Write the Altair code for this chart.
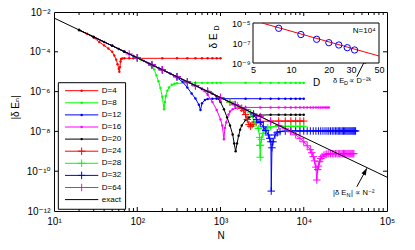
import altair as alt
import pandas as pd

# ---------------- data ----------------
N_exact = [10, 100000]
E_exact = [5.0e-3, 5.0e-11]

N4 = [20, 25, 30, 35, 40, 45, 50, 53, 56, 58, 60, 61, 62, 63, 64, 66, 70, 80, 90, 100,
      200, 300, 400, 500, 600, 700, 800, 900, 1000]
E4 = [1.25e-3, 8.0e-4, 5.2e-4, 3.1e-4, 2.1e-4, 1.45e-4, 1.0e-4, 6.5e-5, 4.0e-5, 2.4e-5,
      1.4e-5, 1.0e-5, 1.7e-5, 3.3e-5, 4.3e-5, 4.6e-5, 4.7e-5, 4.7e-5, 4.7e-5, 4.7e-5,
      4.7e-5, 4.7e-5, 4.7e-5, 4.7e-5, 4.7e-5, 4.7e-5, 4.7e-5, 4.7e-5, 4.7e-5]

N8 = [20, 30, 40, 50, 60, 70, 80, 90, 100, 110, 120, 130, 140, 150, 160, 170, 180, 190, 200,
      210, 215, 220, 230, 240, 260, 280, 300, 400, 500, 600, 700, 800, 900, 1000,
      2000, 3000, 4000, 5000, 6000, 7000, 8000, 9000, 10000]
E8 = [1.25e-3, 5.6e-4, 3.1e-4, 2.0e-4, 1.39e-4, 1.02e-4, 7.8e-5, 6.2e-5, 5.0e-5, 4.1e-5, 3.4e-5,
      2.9e-5, 2.4e-5, 1.9e-5, 1.3e-5, 6.5e-6, 3.3e-6, 1.5e-6, 5.5e-7,
      1.3e-7, 3.0e-7, 6.0e-7, 1.1e-6, 1.6e-6, 2.2e-6, 2.5e-6, 2.6e-6, 2.7e-6,
      2.75e-6, 2.75e-6, 2.75e-6, 2.75e-6, 2.75e-6, 2.75e-6,
      2.75e-6, 2.75e-6, 2.75e-6, 2.75e-6, 2.75e-6, 2.75e-6, 2.75e-6, 2.75e-6, 2.75e-6]

N12 = [20, 30, 40, 50, 60, 70, 80, 90, 100, 120, 140, 160, 180, 200, 250,
       300, 350, 400, 450, 500, 550, 575, 600, 650, 700, 800, 900, 1000,
       2000, 3000, 4000, 5000, 6000, 7000, 8000, 9000, 10000]
E12 = [1.25e-3, 5.6e-4, 3.1e-4, 2.0e-4, 1.39e-4, 1.02e-4, 7.8e-5, 6.2e-5, 5.0e-5,
       3.5e-5, 2.55e-5, 1.95e-5, 1.54e-5, 1.25e-5, 8.0e-6,
       5.0e-6, 3.1e-6, 1.6e-6, 8.0e-7, 4.5e-7, 2.2e-7, 1.2e-7, 2.6e-7, 3.8e-7, 4.2e-7,
       4.4e-7, 4.4e-7, 4.4e-7,
       4.4e-7, 4.4e-7, 4.4e-7, 4.4e-7, 4.4e-7, 4.4e-7, 4.4e-7, 4.4e-7, 4.4e-7]

N16 = [20, 30, 50, 70, 100, 150, 200, 300, 400, 500, 600, 700, 800, 900, 1000,
       1050, 1100, 1130, 1170, 1250, 1300, 1400, 1600, 2000,
       3000, 4000, 5000, 6000, 7000, 8000, 9000, 10000, 11000, 12000, 13000, 14000,
       15000, 16000, 17000, 18000, 19000, 20000]
E16 = [1.25e-3, 5.6e-4, 2.0e-4, 1.02e-4, 5.0e-5, 2.2e-5, 1.25e-5,
       5.6e-6, 3.1e-6, 2.0e-6, 1.3e-6, 7.0e-7, 3.0e-7, 1.2e-7, 4.0e-8,
       2.0e-8, 4.0e-9, 1.5e-8, 2.8e-8, 7.0e-8, 1.0e-7, 1.3e-7, 1.5e-7, 1.6e-7,
       1.6e-7, 1.6e-7, 1.6e-7, 1.6e-7, 1.6e-7, 1.6e-7, 1.6e-7, 1.6e-7, 1.6e-7,
       1.6e-7, 1.6e-7, 1.6e-7, 1.6e-7, 1.6e-7, 1.6e-7, 1.6e-7, 1.6e-7, 1.6e-7]

N20 = [20, 30, 50, 70, 100, 150, 200, 300, 400, 500, 600, 700, 800, 900, 1000,
       1100, 1200, 1300, 1400, 1460, 1520, 1580, 1650, 1720, 1800,
       2000, 2200, 2500, 3000, 4000, 5000, 6000, 7000, 8000, 9000, 10000]
E20 = [1.25e-3, 5.6e-4, 2.0e-4, 1.02e-4, 5.0e-5, 2.2e-5, 1.25e-5,
       5.6e-6, 3.1e-6, 2.0e-6, 1.39e-6, 1.02e-6, 7.8e-7, 5.5e-7, 3.0e-7,
       1.3e-7, 5.0e-8, 2.0e-8, 7.0e-9, 2.5e-9, 1.0e-9, 2.5e-9, 6.0e-9, 1.2e-8, 2.0e-8,
       3.7e-8, 5.0e-8, 6.0e-8, 6.6e-8, 6.8e-8, 6.8e-8, 6.8e-8, 6.8e-8, 6.8e-8, 6.8e-8, 6.8e-8]

N24 = [100, 150, 200, 300, 400, 500, 700, 1000,
       1300, 1600, 1800, 1900, 2000, 2100, 2200, 2300, 2400, 2500, 2700, 3000,
       4000, 5000, 6000, 7000, 8000, 9000, 10000]
E24 = [5.0e-5, 2.2e-5, 1.25e-5, 5.6e-6, 3.1e-6, 2.0e-6, 1.02e-6, 5.0e-7,
       2.96e-7, 1.95e-7, 1.45e-7, 1.1e-7, 7.0e-8, 4.0e-8, 2.2e-8, 1.8e-8, 2.2e-8, 2.6e-8,
       3.0e-8, 3.2e-8,
       3.3e-8, 3.3e-8, 3.3e-8, 3.3e-8, 3.3e-8, 3.3e-8, 3.3e-8]

N28 = [100, 150, 200, 300, 400, 500, 700, 1000,
       1300, 1600, 2000, 2300, 2600, 2850, 2950, 2980, 3000, 3020, 3100, 3240, 3430, 3700, 4000,
       5000, 6000, 7000, 8000, 9000, 10000]
E28 = [5.0e-5, 2.2e-5, 1.25e-5, 5.6e-6, 3.1e-6, 2.0e-6, 1.02e-6, 5.0e-7,
       2.96e-7, 1.95e-7, 1.25e-7, 8.5e-8, 2.5e-8, 1.4e-8, 5.0e-9, 2.0e-9, 5.0e-10, 2.0e-9,
       4.0e-9, 8.0e-9, 1.2e-8, 1.5e-8, 1.7e-8,
       1.8e-8, 1.8e-8, 1.8e-8, 1.8e-8, 1.8e-8, 1.8e-8]

N32 = [100, 150, 200, 300, 400, 500, 700, 1000,
       1500, 2000, 2500, 2720, 3000, 3270, 3500, 3760, 3900, 4030, 4070, 4150, 4270, 4520,
       4800, 5190, 6000,
       7000, 8000, 9000, 10000, 11000, 12000, 13000, 14000, 15000, 16000, 17000, 18000,
       19000, 20000, 21000, 22000, 23000, 24000, 25000, 26000, 27000, 28000, 29000, 30000,
       31000, 32000, 33000, 34000, 35000, 36000, 37000, 38000, 39000, 40000, 41000, 42000]
E32 = [5.0e-5, 2.2e-5, 1.25e-5, 5.6e-6, 3.1e-6, 2.0e-6, 1.02e-6, 5.0e-7,
       2.2e-7, 1.25e-7, 7.5e-8, 4.0e-8, 2.8e-8, 1.7e-8, 1.1e-8, 6.6e-9, 4.5e-9, 3.0e-9,
       1.0e-11, 1.5e-9, 3.0e-9, 6.6e-9, 8.5e-9, 9.8e-9, 1.04e-8,
       1.05e-8, 1.05e-8, 1.05e-8, 1.05e-8, 1.05e-8, 1.05e-8, 1.05e-8, 1.05e-8, 1.05e-8,
       1.05e-8, 1.05e-8, 1.05e-8, 1.05e-8, 1.05e-8, 1.05e-8, 1.05e-8, 1.05e-8, 1.05e-8,
       1.05e-8, 1.05e-8, 1.05e-8, 1.05e-8, 1.05e-8, 1.05e-8, 1.05e-8, 1.05e-8, 1.05e-8,
       1.05e-8, 1.05e-8, 1.05e-8, 1.05e-8, 1.05e-8, 1.05e-8, 1.05e-8, 1.05e-8, 1.05e-8]

N64 = [80, 100, 150, 200, 300, 400, 500, 700, 1000, 1500, 2000, 3000, 4000, 5000,
       6000, 7000, 8000, 9000, 10000,
       11000, 12000, 12500, 13000, 13500, 14000, 14350, 14700, 15000, 15500, 16000,
       16600, 17500, 18500, 19000,
       20000, 21000, 22000, 23000, 24000, 25000, 26000, 27000, 28000, 29000, 30000,
       31000, 32000, 33000, 34000, 35000, 36000, 37000, 38000, 39000, 40000]
E64 = [7.8e-5, 5.0e-5, 2.2e-5, 1.25e-5, 5.6e-6, 3.1e-6, 2.0e-6, 1.02e-6, 5.0e-7, 2.2e-7,
       1.25e-7, 5.6e-8, 3.1e-8, 2.0e-8,
       1.35e-8, 9.5e-9, 6.8e-9, 4.5e-9, 3.0e-9,
       1.9e-9, 1.2e-9, 8.5e-10, 5.4e-10, 3.3e-10, 1.6e-10, 3.6e-11, 1.2e-10, 1.8e-10,
       3.0e-10, 4.3e-10,
       5.4e-10, 6.5e-10, 7.0e-10, 7.2e-10,
       7.6e-10, 7.6e-10, 7.6e-10, 7.6e-10, 7.6e-10, 7.6e-10, 7.6e-10, 7.6e-10, 7.6e-10,
       7.6e-10, 7.6e-10, 7.6e-10, 7.6e-10, 7.6e-10, 7.6e-10, 7.6e-10, 7.6e-10, 7.6e-10,
       7.6e-10, 7.6e-10, 7.6e-10]

series_names = ["D=4", "D=8", "D=12", "D=16", "D=20", "D=24", "D=28", "D=32", "D=64"]
series_N = [N4, N8, N12, N16, N20, N24, N28, N32, N64]
series_E = [E4, E8, E12, E16, E20, E24, E28, E32, E64]
series_colors = ["#ff0000", "#00ff00", "#0000ff", "#ff00ff", "#000000",
                 "#ff0000", "#00ff00", "#0000ff", "#ff00ff"]
series_marker = ["dot", "dot", "dot", "dot", "dot", "plus", "plus", "plus", "plus"]

# legend entries (row order)
legend_names = series_names + ["exact"]
legend_colors = series_colors + ["#000000"]
legend_marker = series_marker + ["none"]
legend_rows = [0, 1, 2, 3, 4, 5, 6, 7, 8, 9]

# inset: delta E_D at N=10^4
D_inset = [8, 12, 16, 20, 24, 28, 32]
E_inset = [2.95e-6, 7.0e-7, 2.35e-7, 1.07e-7, 6.3e-8, 3.4e-8, 2.0e-8]
D_fit = [5.9, 50]
E_fit = [1.0e-5, 5.0e-9]

# tick labels
x_tick_vals = [10, 100, 1000, 10000, 100000]
x_tick_exp = [1, 2, 3, 4, 5]
x_tick_text = ["10¹", "10²", "10³", "10⁴", "10⁵"]
y_tick_vals = [1e-12, 1e-10, 1e-8, 1e-6, 1e-4, 1e-2]
y_tick_exp = [-12, -10, -8, -6, -4, -2]
y_tick_text = ["10⁻¹²", "10⁻¹⁰", "10⁻⁸", "10⁻⁶", "10⁻⁴", "10⁻²"]
x_minor = [20, 30, 40, 50, 60, 70, 80, 90, 200, 300, 400, 500, 600, 700, 800, 900,
           2000, 3000, 4000, 5000, 6000, 7000, 8000, 9000,
           20000, 30000, 40000, 50000, 60000, 70000, 80000, 90000]
x_major = [100, 1000, 10000]
y_major = [1e-10, 1e-8, 1e-6, 1e-4]
ix_tick_vals = [5, 10, 20, 30, 50]
iy_tick_vals = [1e-9, 1e-7, 1e-5]
iy_tick_exp = [-9, -7, -5]
iy_tick_text = ["10⁻⁹", "10⁻⁷", "10⁻⁵"]

# ---------------- chart ----------------
FONT = "Liberation Sans, Arial, DejaVu Sans, sans-serif"
W, H = 333, 199
PLUS = "M-1,0H1M0,-1V1"
ARROW = "M0,0L-0.45,1.3L0.45,1.3Z"


def exp_expr(exps, texts):
    s = ""
    for e, t in zip(exps, texts):
        s += f"round(log(datum.value)/LN10) == {e} ? '{t}' : "
    return s + "''"


xsc = alt.Scale(type="log", domain=[10, 100000])
ysc = alt.Scale(type="log", domain=[1e-12, 1e-2])

xaxis = alt.Axis(values=x_tick_vals, labelExpr=exp_expr(x_tick_exp, x_tick_text),
                 title="N", labelPadding=5, labelFlush=False, titleY=24,
                 titleBaseline="middle", labelOverlap=False, orient="bottom")
yaxis = alt.Axis(values=y_tick_vals, labelExpr=exp_expr(y_tick_exp, y_tick_text),
                 title="|δ Eₙ|", labelPadding=4, titleX=-34, titleY=95,
                 titleAngle=270, titleBaseline="bottom", labelOverlap=False, orient="left")


def X(f):
    return alt.X(f, scale=xsc, axis=xaxis)


def Y(f):
    return alt.Y(f, scale=ysc, axis=yaxis)


layers = []
for name, Ns, Es, col, mk in zip(series_names, series_N, series_E, series_colors, series_marker):
    df = pd.DataFrame({"N": Ns, "E": Es})
    base = alt.Chart(df).encode(x=X("N:Q"), y=Y("E:Q"))
    layers.append(base.mark_line(color=col, strokeWidth=1, clip=True))
    if mk == "dot":
        layers.append(base.mark_circle(color=col, size=6, opacity=1, clip=True))
    else:
        layers.append(base.mark_point(shape=PLUS, filled=False, color=col, size=56,
                                      strokeWidth=1, opacity=1, clip=True))

exact_df = pd.DataFrame({"N": N_exact, "E": E_exact})
layers.append(alt.Chart(exact_df).mark_line(color="black", strokeWidth=1).encode(
    x=X("N:Q"), y=Y("E:Q")))

# inward ticks
xmin_df = pd.DataFrame({"t": x_minor})
xmaj_df = pd.DataFrame({"t": x_major})
ymaj_df = pd.DataFrame({"t": y_major})
for d, ln in [(xmin_df, 3), (xmaj_df, 4)]:
    layers.append(alt.Chart(d).mark_rule(color="black", strokeWidth=1).encode(
        x=X("t:Q"), y=alt.value(0), y2=alt.value(ln)))
    layers.append(alt.Chart(d).mark_rule(color="black", strokeWidth=1).encode(
        x=X("t:Q"), y=alt.value(H - ln), y2=alt.value(H)))
layers.append(alt.Chart(ymaj_df).mark_rule(color="black", strokeWidth=1).encode(
    y=Y("t:Q"), x=alt.value(0), x2=alt.value(4)))
layers.append(alt.Chart(ymaj_df).mark_rule(color="black", strokeWidth=1).encode(
    y=Y("t:Q"), x=alt.value(W - 4), x2=alt.value(W)))


def text_piece(N, E, txt, size, dx=0, dy=0, align="left"):
    d = pd.DataFrame({"N": [N], "E": [E], "t": [txt]})
    return alt.Chart(d).mark_text(align=align, baseline="middle", font=FONT, fontSize=size,
                                  dx=dx, dy=dy, color="black").encode(
        x=X("N:Q"), y=Y("E:Q"), text="t:N")


def arrow(N1, E1, N2, E2, ang):
    d = pd.DataFrame({"N1": [N1], "E1": [E1], "N2": [N2], "E2": [E2]})
    shaft = alt.Chart(d).mark_rule(color="black", strokeWidth=1).encode(
        x=X("N1:Q"), y=Y("E1:Q"), x2="N2:Q", y2="E2:Q")
    head = alt.Chart(d).mark_point(shape=ARROW, filled=True, color="black", size=116,
                                   angle=ang, opacity=1).encode(x=X("N2:Q"), y=Y("E2:Q"))
    return [shaft, head]


# annotation |dE_N| ~ N^-2
layers.append(text_piece(22500, 7.9e-12, "|δ E", 7.5))
layers.append(text_piece(22500, 7.9e-12, "N", 5.5, dx=13.5, dy=2))
layers.append(text_piece(22500, 7.9e-12, "| ∝ N⁻²", 7.5, dx=18))
layers += arrow(43400, 1.65e-11, 57300, 1.4e-10, 28)
# annotation dE_D ~ D^-2k
layers.append(text_piece(22500, 3.4e-6, "δ E", 7.5))
layers.append(text_piece(22500, 3.4e-6, "D", 5.5, dx=11, dy=2))
layers.append(text_piece(22500, 3.4e-6, "∝ D⁻²ᵏ", 7.5, dx=16))
layers += arrow(43400, 5.6e-6, 57300, 5.7e-5, 28)

main = alt.layer(*layers)

# ---------------- legend (own little coordinate system) ----------------
lgx = alt.Scale(type="linear", domain=[0, 1], range=[11, 44.3])
lgy = alt.Scale(type="linear", domain=[0, 9], range=[78.7, 187.6])
leg_df = pd.DataFrame({"name": legend_names, "row": legend_rows,
                       "color": legend_colors, "marker": legend_marker})
leg_box = pd.DataFrame({"x0": [-0.2], "x1": [1.82], "y0": [-0.66], "y1": [9.8]})


def LY(f):
    return alt.Y(f, scale=lgy, axis=None)


legend_layers = [
    alt.Chart(leg_box).mark_rect(fill="white", stroke="black", strokeWidth=1).encode(
        x=alt.X("x0:Q", scale=lgx, axis=None), x2="x1:Q", y=LY("y0:Q"), y2="y1:Q"),
    alt.Chart(leg_df).mark_rule(strokeWidth=1).encode(
        x=alt.XDatum(0, scale=lgx, axis=None), x2=alt.X2Datum(1), y=LY("row:Q"),
        color=alt.Color("color:N", scale=None)),
    alt.Chart(leg_df).transform_filter("datum.marker == 'dot'").mark_circle(
        size=6, opacity=1).encode(
        x=alt.XDatum(0.5, scale=lgx, axis=None), y=LY("row:Q"),
        color=alt.Color("color:N", scale=None)),
    alt.Chart(leg_df).transform_filter("datum.marker == 'plus'").mark_point(
        shape=PLUS, filled=False, size=56, strokeWidth=1, opacity=1).encode(
        x=alt.XDatum(0.5, scale=lgx, axis=None), y=LY("row:Q"),
        color=alt.Color("color:N", scale=None)),
    alt.Chart(leg_df).mark_text(align="left", baseline="middle", dx=3.5, font=FONT,
                                fontSize=8, color="black").encode(
        x=alt.XDatum(1, scale=lgx, axis=None), y=LY("row:Q"), text="name:N"),
]
legend = alt.layer(*legend_layers)

# ---------------- inset ----------------
isx = alt.Scale(type="log", domain=[5, 50], range=[199, 325])
isy = alt.Scale(type="log", domain=[1e-9, 1e-5], range=[51, 11])
ix_axis = alt.Axis(orient="bottom", offset=-(H - 51), values=ix_tick_vals,
                   labelExpr="format(datum.value, 'd')", title="D", labelPadding=2,
                   labelFontSize=9, titleFontSize=10, titleY=19, titleBaseline="middle",
                   domain=False, ticks=False, labelFlush=False, zindex=1)
iy_axis = alt.Axis(orient="left", offset=-199, values=iy_tick_vals,
                   labelExpr=exp_expr(iy_tick_exp, iy_tick_text), title=None,
                   labelPadding=3, labelFontSize=9, domain=False, ticks=False, zindex=1)


def IX(f):
    return alt.X(f, scale=isx, axis=ix_axis)


def IY(f):
    return alt.Y(f, scale=isy, axis=iy_axis)


box_df = pd.DataFrame({"D0": [5], "D1": [50], "E0": [1e-9], "E1": [1e-5]})
inset_layers = [
    alt.Chart(box_df).mark_rect(fill="white", stroke="black", strokeWidth=1).encode(
        x=IX("D0:Q"), x2="D1:Q", y=IY("E0:Q"), y2="E1:Q"),
    alt.Chart(pd.DataFrame({"D": D_fit, "E": E_fit})).mark_line(
        color="#ff0000", strokeWidth=1).encode(x=IX("D:Q"), y=IY("E:Q")),
    alt.Chart(pd.DataFrame({"D": D_inset, "E": E_inset})).mark_point(
        shape="circle", filled=False, color="#0000ff", size=40, strokeWidth=1,
        opacity=1).encode(x=IX("D:Q"), y=IY("E:Q")),
]


def itext(D, E, txt, size, angle=0, align="center"):
    d = pd.DataFrame({"D": [D], "E": [E], "t": [txt]})
    return alt.Chart(d).mark_text(align=align, baseline="middle", font=FONT, fontSize=size,
                                  angle=angle, color="black").encode(
        x=IX("D:Q"), y=IY("E:Q"), text="t:N")


inset_layers.append(itext(47, 1.6e-6, "N=10⁴", 8, align="right"))
inset_layers.append(itext(2.45, 1.6e-7, "δ E", 10, angle=270))
inset_layers.append(itext(2.59, 3.2e-6, "D", 7, angle=270))

inset = alt.layer(*inset_layers)

chart = alt.layer(main, legend, inset).resolve_scale(
    x="independent", y="independent").properties(
    width=W, height=H,
    autosize=alt.AutoSizeParams(type="none"),
    padding={"left": 46, "top": 4, "right": 20, "bottom": 35},
    background="white",
).configure_view(stroke="black", strokeWidth=1).configure_axis(
    labelFont=FONT, titleFont=FONT, labelFontSize=10, titleFontSize=10,
    titleFontWeight="normal", labelColor="black", titleColor="black",
    grid=False, domain=False, ticks=False,
)

chart.save("out.html", embed_options={"renderer": "svg", "actions": False})
